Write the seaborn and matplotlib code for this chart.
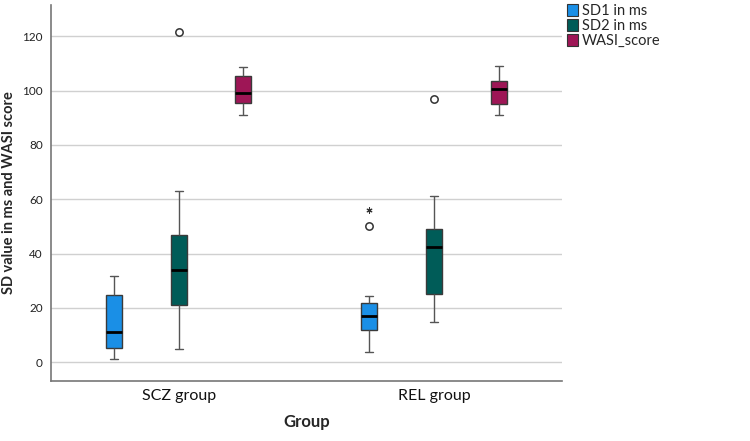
import matplotlib
matplotlib.use('Agg')
import matplotlib.pyplot as plt
import seaborn as sns
import pandas as pd
import numpy as np
from matplotlib.patches import Patch

# five-number summaries: min, Q1, median, Q3, max
groups = ['SCZ group', 'REL group']
measures = ['SD1 in ms', 'SD2 in ms', 'WASI_score']
scz_sd1 = [1.2, 5.3, 11.2, 24.7, 31.8]
scz_sd2 = [4.9, 21.2, 33.8, 46.7, 63.2]
scz_wasi = [90.9, 95.4, 99.0, 105.4, 108.9]
rel_sd1 = [3.9, 11.9, 17.1, 22.0, 24.4]
rel_sd2 = [14.8, 25.3, 42.4, 49.2, 61.4]
rel_wasi = [91.0, 95.2, 100.8, 103.4, 109.1]

# outliers (circle) and extremes (star)
out_group = ['SCZ group', 'REL group', 'REL group']
out_measure = ['SD2 in ms', 'SD1 in ms', 'SD2 in ms']
out_value = [121.6, 50.0, 97.1]
ext_group = ['REL group']
ext_measure = ['SD1 in ms']
ext_value = [56.1]

colors = ['#1a8fe6', '#005c58', '#9e1656']

rows = []
for g, vals in zip(groups, [[scz_sd1, scz_sd2, scz_wasi], [rel_sd1, rel_sd2, rel_wasi]]):
    for m, v in zip(measures, vals):
        for x in v:
            rows.append({'Group': g, 'Measure': m, 'Value': x})
df = pd.DataFrame(rows)

sns.set_theme(style='white')
plt.rcParams['font.family'] = ['Lato', 'DejaVu Sans']

fig = plt.figure(figsize=(7.5, 4.41), dpi=100)
ax = fig.add_axes([0.068, 0.136, 0.681, 0.853])

for y in range(0, 121, 20):
    ax.axhline(y, color='#d0d0d0', lw=1, zorder=0)

width = 0.76
sns.boxplot(data=df, x='Group', y='Value', hue='Measure', order=groups, hue_order=measures,
            palette=colors, width=width, gap=0.75, whis=(0, 100), dodge=True,
            linewidth=1, linecolor='#3a3a3a', saturation=1, legend=False, ax=ax,
            medianprops={'color': 'black', 'linewidth': 2},
            whiskerprops={'color': '#555555'}, capprops={'color': '#555555'},
            boxprops={'edgecolor': '#3a3a3a'})

def xpos(g, m):
    return groups.index(g) + (measures.index(m) - 1) * width / 3

ax.scatter([xpos(g, m) for g, m in zip(out_group, out_measure)], out_value,
           marker='o', s=28, facecolors='white', edgecolors='#333333', linewidths=1.1, zorder=5)
ax.scatter([xpos(g, m) for g, m in zip(ext_group, ext_measure)], ext_value,
           marker=(6, 2, 0), s=14, color='#333333', linewidths=0.8, zorder=5)

ax.set_xlim(-0.5, 1.5)
ax.set_ylim(-6.9, 131.6)
ax.set_yticks(range(0, 121, 20))
ax.tick_params(axis='y', labelsize=8.5, colors='#222222', length=0, pad=6)
ax.tick_params(axis='x', labelsize=11.5, colors='#111111', length=0, pad=6)
for s in ['top', 'right']:
    ax.spines[s].set_visible(False)
for s in ['left', 'bottom']:
    ax.spines[s].set_color('#777777')
    ax.spines[s].set_linewidth(1.2)

ax.set_xlabel('Group', fontsize=12, fontweight='bold', labelpad=8)
ax.set_ylabel('SD value in ms and WASI score', fontsize=10.5, fontweight='bold', labelpad=4)

handles = [Patch(facecolor=c, edgecolor='#333333', linewidth=0.8) for c in colors]
fig.legend(handles, measures, loc='upper left', bbox_to_anchor=(0.748, 1.005), frameon=False,
           fontsize=10.5, handlelength=0.75, handleheight=0.95, handletextpad=0.3,
           labelspacing=0.05, borderaxespad=0)

fig.savefig('out.png', dpi=100)
